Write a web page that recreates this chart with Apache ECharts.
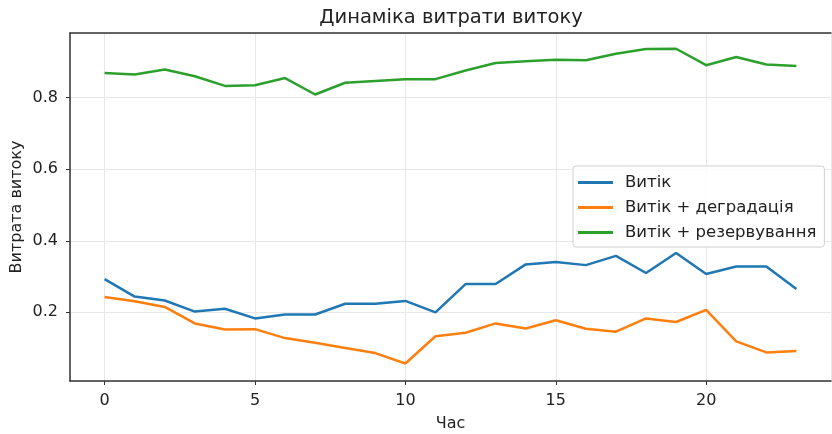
<!DOCTYPE html>
<html>
<head>
<meta charset="utf-8">
<script src="https://cdn.jsdelivr.net/npm/echarts@6/dist/echarts.min.js"></script>
<style>
  html, body { margin: 0; padding: 0; background: #fff; }
  #chart { width: 832px; height: 434px; }
</style>
</head>
<body>
<div id="chart"></div>
<script>
// hours 0..23
const hours = Array.from({ length: 24 }, (_, i) => i);

const leak = [0.293, 0.244, 0.233, 0.202, 0.210, 0.183, 0.194, 0.194, 0.224, 0.224, 0.232, 0.200,
              0.279, 0.279, 0.334, 0.341, 0.332, 0.358, 0.310, 0.366, 0.307, 0.328, 0.328, 0.265];
const leakDegr = [0.243, 0.231, 0.215, 0.169, 0.152, 0.153, 0.128, 0.115, 0.100, 0.086, 0.057, 0.133,
                  0.143, 0.169, 0.155, 0.178, 0.154, 0.146, 0.183, 0.173, 0.207, 0.119, 0.088, 0.092];
const leakReserve = [0.869, 0.865, 0.879, 0.860, 0.833, 0.835, 0.855, 0.809, 0.842, 0.847, 0.852, 0.852,
                     0.876, 0.897, 0.902, 0.906, 0.905, 0.923, 0.936, 0.937, 0.891, 0.914, 0.893, 0.889];

const seriesNames = ['Витік', 'Витік + деградація', 'Витік + резервування'];
const colors = ['#1f77b4', '#ff7f0e', '#2ca02c'];

const font = 'DejaVu Sans';
const pairs = arr => hours.map((h, i) => [h, arr[i]]);
const spine = { color: '#333', width: 1.5 };

const chart = echarts.init(document.getElementById('chart'));

chart.setOption({
    animation: false,
    textStyle: { fontFamily: font },
    title: {
        text: 'Динаміка витрати витоку',
        left: 446,
        textAlign: 'center',
        top: 3,
        textStyle: { fontFamily: font, fontSize: 19.5, fontWeight: 'normal', color: '#222' }
    },
    grid: { left: 70, top: 33, right: 1, bottom: 53, outerBoundsMode: 'none', containLabel: false },
    legend: {
        data: seriesNames,
        orient: 'vertical',
        left: 573,
        top: 166,
        icon: 'rect',
        itemWidth: 35,
        itemHeight: 3,
        itemGap: 8,
        padding: [8, 8, 6, 5],
        backgroundColor: 'rgba(255,255,255,0.85)',
        borderColor: '#d0d0d0',
        borderWidth: 1,
        borderRadius: 3,
        textStyle: { fontFamily: font, fontSize: 16.5, color: '#222', padding: [0, 0, 0, 7] }
    },
    xAxis: [{
        type: 'value',
        min: -1.15,
        max: 24.15,
        splitNumber: 5,
        name: 'Час',
        nameLocation: 'middle',
        nameGap: 35,
        nameTextStyle: { fontFamily: font, fontSize: 16, color: '#222' },
        axisLine: { lineStyle: spine },
        axisTick: { length: 4, lineStyle: { color: '#333' } },
        axisLabel: {
            fontFamily: font, fontSize: 16, color: '#222', margin: 12,
            showMinLabel: false, showMaxLabel: false,
            formatter: v => (v % 5 === 0 ? String(v) : '')
        },
        splitLine: { show: true, lineStyle: { color: '#e8e8e8', width: 1 } }
    }, {
        type: 'value',
        position: 'top',
        min: -1.15,
        max: 24.15,
        axisLine: { show: true, onZero: false, lineStyle: spine },
        axisTick: { show: false },
        axisLabel: { show: false },
        splitLine: { show: false }
    }],
    yAxis: {
        type: 'value',
        min: 0.008,
        max: 0.981,
        splitNumber: 5,
        name: 'Витрата витоку',
        nameLocation: 'middle',
        nameGap: 45,
        nameMoveOverlap: false,
        nameTextStyle: { fontFamily: font, fontSize: 16, color: '#222' },
        axisLine: { show: true, onZero: false, lineStyle: spine },
        axisTick: { show: true, length: 4, lineStyle: { color: '#333' } },
        axisLabel: {
            fontFamily: font, fontSize: 16, color: '#222', margin: 12,
            showMinLabel: false, showMaxLabel: false,
            formatter: v => (Math.abs(v * 5 - Math.round(v * 5)) < 1e-6 ? v.toFixed(1) : '')
        },
        splitLine: { show: true, lineStyle: { color: '#e8e8e8', width: 1 } }
    },
    series: [leak, leakDegr, leakReserve].map((arr, i) => ({
        name: seriesNames[i],
        type: 'line',
        data: pairs(arr),
        showSymbol: false,
        color: colors[i],
        lineStyle: { width: 2.5, color: colors[i] },
        z: 3
    }))
});
</script>
</body>
</html>
